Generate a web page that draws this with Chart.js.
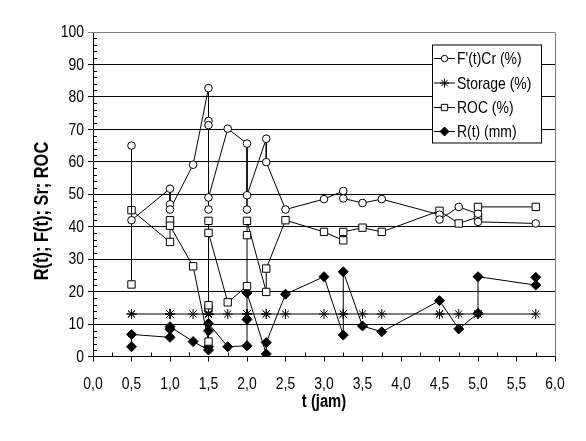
<!DOCTYPE html>
<html lang="id">
  <head>
    <meta charset="UTF-8">
    <title>R(t); F(t); Sr; ROC</title>
    <script src="https://cdn.jsdelivr.net/npm/chart.js"></script>
    <style>
      body{margin: 0; background: #fff;}
      #wrap{width: 586px; height: 441px; position: relative;}
    </style>
  </head>
  <body>
    <div id="wrap">
      <canvas id="myChart"></canvas>
    </div>
    <script>
      // data
      const crX = [0.5, 0.5, 1.0, 1.0, 1.0, 1.3, 1.5, 1.5, 1.5, 1.5, 1.5, 1.75, 2.0, 2.0, 2.0, 2.25, 2.25, 2.5, 3.0, 3.25, 3.25, 3.5, 3.75, 4.5, 4.5, 4.75, 5.0, 5.0, 5.75];
      const crY = [65, 42, 51.7, 46.9, 45.3, 59.1, 82.7, 72.6, 71.3, 45.3, 49, 70.2, 65.6, 45.3, 49.7, 67.1, 59.9, 45.3, 48.5, 51, 48.7, 47.3, 48.5, 43.7, 42.2, 46.1, 44, 41.5, 41];

      const stX = [0.5, 0.5, 1.0, 1.0, 1.0, 1.3, 1.5, 1.5, 1.5, 1.5, 1.5, 1.75, 2.0, 2.0, 2.0, 2.25, 2.25, 2.5, 3.0, 3.25, 3.25, 3.5, 3.75, 4.5, 4.5, 4.75, 5.0, 5.0, 5.75];
      const stY = [13.1, 13.1, 13.1, 13.1, 13.1, 13.1, 13.1, 13.1, 13.1, 13.1, 13.1, 13.1, 13.1, 13.1, 13.1, 13.1, 13.1, 13.1, 13.1, 13.1, 13.1, 13.1, 13.1, 13.1, 13.1, 13.1, 13.1, 13.1, 13.1];

      const rocX = [0.5, 0.5, 1.0, 1.0, 1.0, 1.3, 1.5, 1.5, 1.5, 1.5, 1.5, 1.75, 2.0, 2.0, 2.0, 2.25, 2.25, 2.5, 3.0, 3.25, 3.25, 3.5, 3.75, 4.5, 4.75, 5.0, 5.0, 5.75];
      const rocY = [22.2, 45.1, 35.3, 42, 40.3, 27.8, 4.6, 14.8, 15.8, 41.8, 38.1, 16.7, 21.7, 37.4, 41.8, 19.9, 27.1, 42, 38.4, 35.8, 38.4, 39.7, 38.4, 44.9, 41, 43, 46.1, 46.1];

      const rtX = [0.5, 0.5, 1.0, 1.0, 1.0, 1.3, 1.5, 1.5, 1.5, 1.5, 1.75, 2.0, 2.0, 2.0, 2.25, 2.25, 2.5, 3.0, 3.25, 3.25, 3.5, 3.75, 4.5, 4.75, 5.0, 5.0, 5.75, 5.75];
      const rtY = [3.0, 6.8, 5.9, 8.4, 9.2, 4.6, 2.0, 3.0, 7.9, 10.2, 3.0, 3.3, 11.4, 19.6, 0.8, 4.3, 19.2, 24.6, 6.6, 26.1, 9.4, 7.6, 17.2, 8.5, 13.3, 24.6, 22, 24.4];

      const seriesNames = ["F'(t)Cr (%)", "Storage (%)", "ROC (%)", "R(t) (mm)"];
      const xTitle = "t (jam)";
      const yTitle = "R(t); F(t); Sr; ROC";

      const FONT = "'Liberation Sans', Arial, sans-serif";
      const SQUEEZE = 0.82; // huruf di gambar asli lebih sempit
      Chart.defaults.color = '#000';
      Chart.defaults.font.family = FONT;

      function toPoints(xs, ys){
        let arr = [];
        for(let i = 0; i < xs.length; i++){
          arr.push({x: xs[i], y: ys[i]});
        }
        return arr;
      }

      // tulis teks yang dipersempit horizontal
      function narrowText(ctx, text, x, y, font, align, rot){
        ctx.save();
        ctx.translate(x, y);
        if(rot) ctx.rotate(rot);
        ctx.scale(SQUEEZE, 1);
        ctx.font = font;
        ctx.textAlign = align;
        ctx.textBaseline = 'middle';
        ctx.fillStyle = '#000';
        ctx.fillText(text, 0, 0);
        ctx.restore();
      }

      // label tick, minor tick, bingkai, judul sumbu, legenda
      const extras = {
        id: 'extras',
        afterDraw(chart){
          const ctx = chart.ctx;
          const a = chart.chartArea;
          const xs = chart.scales.x;
          const ys = chart.scales.y;
          ctx.save();

          // bingkai kanan & atas
          ctx.strokeStyle = '#808080';
          ctx.lineWidth = 1;
          ctx.beginPath();
          ctx.moveTo(a.left, a.top + 0.5);
          ctx.lineTo(a.right + 0.5, a.top + 0.5);
          ctx.lineTo(a.right + 0.5, a.bottom);
          ctx.stroke();

          // minor tick
          ctx.strokeStyle = '#000';
          ctx.beginPath();
          for(let v = 2; v < 100; v += 2){
            if(v % 10 == 0) continue;
            let py = Math.round(ys.getPixelForValue(v)) + 0.5;
            ctx.moveTo(a.left, py);
            ctx.lineTo(a.left + 4, py);
          }
          for(let v = 0.25; v < 6; v += 0.5){
            let px = Math.round(xs.getPixelForValue(v)) + 0.5;
            ctx.moveTo(px, a.bottom);
            ctx.lineTo(px, a.bottom - 4);
          }
          ctx.stroke();
          ctx.restore();

          // label tick
          xs.ticks.forEach(function(t){
            narrowText(ctx, t.value.toFixed(1).replace('.', ','), xs.getPixelForValue(t.value), 384, '17px ' + FONT, 'center');
          });
          ys.ticks.forEach(function(t){
            narrowText(ctx, String(t.value), a.left - 9, ys.getPixelForValue(t.value) + 0.5, '17px ' + FONT, 'right');
          });

          // judul sumbu
          narrowText(ctx, xTitle, (a.left + a.right) / 2, 402, 'bold 18px ' + FONT, 'center');
          narrowText(ctx, yTitle, 42, 211, 'bold 20px ' + FONT, 'center', -Math.PI / 2);

          // legenda
          ctx.save();
          const L = 432, T = 44.5, W = 109, H = 98;
          ctx.fillStyle = '#fff';
          ctx.fillRect(L, T, W, H);
          ctx.strokeStyle = '#000';
          ctx.lineWidth = 1;
          ctx.strokeRect(L + 0.5, T + 0.5, W, H);
          const rowY = [58.5, 83, 107.5, 131.5];
          const sizes = [3.2, 4.5, 4.5, 4.5];
          chart.data.datasets.forEach(function(ds, i){
            let y = rowY[i];
            ctx.strokeStyle = '#000';
            ctx.beginPath();
            ctx.moveTo(434, y);
            ctx.lineTo(455, y);
            ctx.stroke();
            ctx.fillStyle = ds.pointBackgroundColor;
            ctx.strokeStyle = '#000';
            Chart.helpers.drawPoint(ctx, {pointStyle: ds.pointStyle, radius: sizes[i], borderWidth: 1, rotation: 0}, 444.5, y);
            narrowText(ctx, ds.label, 457, y + 1, '17px ' + FONT, 'left');
          });
          ctx.restore();
        }
      };

      const ctx = document.getElementById('myChart');
      new Chart(ctx, {
        type: 'scatter',
        data: {
          datasets: [{
            label: seriesNames[0],
            data: toPoints(crX, crY),
            showLine: true,
            borderColor: '#000',
            borderWidth: 1,
            pointStyle: 'circle',
            pointRadius: 3.8,
            pointBackgroundColor: '#fff',
            pointBorderColor: '#000',
            pointBorderWidth: 1
          }, {
            label: seriesNames[1],
            data: toPoints(stX, stY),
            showLine: true,
            borderColor: '#000',
            borderWidth: 1,
            pointStyle: 'star',
            pointRadius: 5,
            pointBackgroundColor: '#000',
            pointBorderColor: '#000',
            pointBorderWidth: 1
          }, {
            label: seriesNames[2],
            data: toPoints(rocX, rocY),
            showLine: true,
            borderColor: '#000',
            borderWidth: 1,
            pointStyle: 'rect',
            pointRadius: 5.2,
            pointBackgroundColor: '#fff',
            pointBorderColor: '#000',
            pointBorderWidth: 1
          }, {
            label: seriesNames[3],
            data: toPoints(rtX, rtY),
            showLine: true,
            borderColor: '#000',
            borderWidth: 1,
            pointStyle: 'rectRot',
            pointRadius: 5,
            pointBackgroundColor: '#000',
            pointBorderColor: '#000',
            pointBorderWidth: 1
          }]
        },
        options: {
          responsive: true,
          maintainAspectRatio: false,
          animation: false,
          layout: {padding: {top: 32, right: 31, left: 0, bottom: 0}},
          plugins: {
            legend: {display: false},
            tooltip: {enabled: false}
          },
          scales: {
            x: {
              type: 'linear',
              min: 0,
              max: 6,
              afterFit: function(scale){ scale.height = 84.5; },
              border: {display: true, color: '#000', width: 1},
              grid: {drawOnChartArea: false, drawTicks: true, tickLength: 5, color: '#000'},
              ticks: {stepSize: 0.5, display: false}
            },
            y: {
              min: 0,
              max: 100,
              afterFit: function(scale){ scale.width = 93; },
              border: {display: true, color: '#000', width: 1},
              grid: {
                drawTicks: true,
                tickLength: 5,
                color: function(c){ return c.tick && c.tick.value == 100 ? '#808080' : '#000'; }
              },
              ticks: {stepSize: 10, display: false}
            }
          }
        },
        plugins: [extras]
      });
    </script>
  </body>
</html>
